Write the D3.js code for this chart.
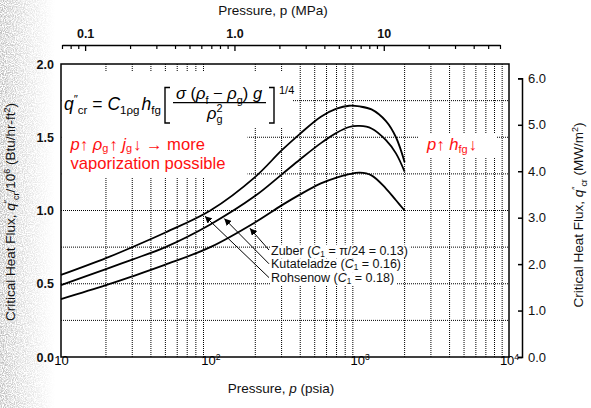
<!DOCTYPE html>
<html lang="en">
<head>
<meta charset="UTF-8">
<title>Critical Heat Flux vs Pressure</title>
<script src="https://d3js.org/d3.v7.min.js"></script>
<style>
  body { margin: 0; background: #fff; }
  svg { display: block; font-family: "Liberation Sans", Arial, Helvetica, sans-serif; }
</style>
</head>
<body>
<svg id="chf" width="591" height="408"></svg>
<script>
// pressure samples (psia)
const pressures = [10, 20, 30, 50, 100, 200, 300, 400, 550, 700, 850, 1000, 1200, 1500, 1750, 2000];
// q"cr / 10^6 (Btu/hr-ft2) for each correlation
const rohsenow    = [0.56, 0.675, 0.75, 0.85, 1.00, 1.23, 1.41, 1.525, 1.64, 1.695, 1.715, 1.71, 1.69, 1.61, 1.50, 1.33];
const kutateladze = [0.49, 0.60, 0.665, 0.75, 0.905, 1.10, 1.245, 1.35, 1.46, 1.53, 1.57, 1.577, 1.56, 1.48, 1.39, 1.265];
const zuber       = [0.395, 0.49, 0.55, 0.63, 0.75, 0.92, 1.035, 1.11, 1.185, 1.225, 1.248, 1.258, 1.24, 1.15, 1.07, 1.00];

const seriesNames = ['Zuber', 'Kutateladze', 'Rohsenow'];
const seriesC1 = ['π/24 = 0.13', '0.16', '0.18'];
const arrowPressures = [184, 124, 92];   // where each label's arrow touches its curve

// axis ticks
const xTicksPsia = [10, 100, 1000, 10000];
const yTicksLeft = [0, 0.5, 1.0, 1.5, 2.0];
const yTicksRight = [0, 1, 2, 3, 4, 5, 6];
const mpaMajor = [0.1, 1, 10];
const mpaMinor = [0.07, 0.08, 0.09, 0.2, 0.3, 0.4, 0.5, 0.6, 0.7, 0.8, 0.9,
                  2, 3, 4, 5, 6, 7, 8, 9, 20, 30, 40, 50, 60];
const gridPsia = [20, 30, 40, 50, 60, 70, 80, 90, 200, 300, 400, 500, 600, 700, 800, 900,
                  2000, 3000, 4000, 5000, 6000, 7000, 8000, 9000];
const gridFlux = [0.25, 0.5, 0.75, 1.0, 1.25, 1.5, 1.75];

const PSIA_PER_MPA = 145.038;
const MW_PER_BTU = 3.1546;   // 1e6 Btu/hr-ft2 -> MW/m2

const svg = d3.select('#chf');
const FONT = '"Liberation Sans", Arial, Helvetica, sans-serif';

// scales
const x = d3.scaleLog().domain([10, 10000]).range([61, 509]);
const y = d3.scaleLinear().domain([0, 2]).range([357, 64]);
const yR = d3.scaleLinear().domain([0, 6]).range([y(0), y(6 / MW_PER_BTU)]);
const xM = d3.scaleLog().domain([0.07, 60]).range([x(0.07 * PSIA_PER_MPA), x(60 * PSIA_PER_MPA)]);

// rich text helper: italics, sub and superscripts through tspans
function rich(sel, parts, size, subShift) {
    const sub = subShift === undefined ? 0.28 : subShift;
    let shift = 0;
    parts.forEach(p => {
        const target = p.sup ? -0.38 * size : p.sub ? sub * size : 0;
        const ts = sel.append('tspan').text(p.t)
            .attr('font-size', (p.sup || p.sub) ? size * 0.66 : size)
            .attr('dy', target - shift);
        if (p.i) ts.attr('font-style', 'italic');
        if (p.dx) ts.attr('dx', p.dx);
        shift = target;
    });
    return sel;
}

// scanned paper texture on the left edge
const defs = svg.append('defs');
const fade = defs.append('linearGradient').attr('id', 'fade').attr('x1', 0).attr('x2', 1).attr('y1', 0).attr('y2', 0);
fade.append('stop').attr('offset', 0).attr('stop-color', '#fff').attr('stop-opacity', 0.9);
fade.append('stop').attr('offset', 0.45).attr('stop-color', '#fff').attr('stop-opacity', 0.45);
fade.append('stop').attr('offset', 1).attr('stop-color', '#fff').attr('stop-opacity', 0);
defs.append('mask').attr('id', 'fadeMask')
    .append('rect').attr('x', 0).attr('y', 0).attr('width', 55).attr('height', 408).attr('fill', 'url(#fade)');
const speck = defs.append('filter').attr('id', 'speck').attr('x', 0).attr('y', 0).attr('width', 1).attr('height', 1);
speck.append('feTurbulence').attr('type', 'fractalNoise').attr('baseFrequency', 0.9).attr('numOctaves', 2).attr('seed', 4);
speck.append('feColorMatrix').attr('type', 'matrix')
    .attr('values', '0 0 0 0 0.45  0 0 0 0 0.45  0 0 0 0 0.45  3 0 0 0 -1.05');
svg.append('rect').attr('x', 0).attr('y', 0).attr('width', 55).attr('height', 408)
    .attr('filter', 'url(#speck)').attr('mask', 'url(#fadeMask)');

// dotted grid
const grid = svg.append('g').attr('stroke', '#000').attr('stroke-width', 1).attr('stroke-dasharray', '1,1');
grid.selectAll('.gx').data(gridPsia).join('line')
    .attr('x1', d => x(d)).attr('x2', d => x(d)).attr('y1', y(2)).attr('y2', y(0));
grid.selectAll('.gy').data(gridFlux).join('line')
    .attr('y1', d => y(d)).attr('y2', d => y(d)).attr('x1', x(10)).attr('x2', x(10000));

// white patches that the annotations sit on
const patches = [[61.5, 72, 231, 55], [61.5, 127, 186, 51], [418, 133, 79, 25]];
svg.append('g').selectAll('rect').data(patches).join('rect')
    .attr('x', d => d[0]).attr('y', d => d[1]).attr('width', d => d[2]).attr('height', d => d[3])
    .attr('fill', '#fff');

// curves
const series = [zuber, kutateladze, rohsenow].map((vals, i) => ({
    name: seriesNames[i], c1: seriesC1[i],
    points: pressures.map((p, j) => ({ p: p, v: vals[j] }))
}));
const line = d3.line().x(d => x(d.p)).y(d => y(d.v)).curve(d3.curveCatmullRom.alpha(0.5));
svg.append('g').selectAll('path').data(series).join('path')
    .attr('d', d => line(d.points))
    .attr('fill', 'none').attr('stroke', '#000').attr('stroke-width', 1.8);

// frame
svg.append('rect')
    .attr('x', x(10)).attr('y', y(2)).attr('width', x(10000) - x(10)).attr('height', y(0) - y(2))
    .attr('fill', 'none').attr('stroke', '#000').attr('stroke-width', 1.5);

// bottom axis (psia)
const xAxis = svg.append('g').attr('transform', `translate(0,${y(0)})`)
    .call(d3.axisBottom(x).tickValues(xTicksPsia).tickSize(0).tickPadding(8).tickFormat(() => ''));
xAxis.select('.domain').remove();
xAxis.selectAll('.tick text').each(function (d) {
    const t = d3.select(this).attr('font-family', FONT).attr('fill', '#000');
    const e = Math.round(Math.log10(d));
    const parts = e === 1 ? [{ t: '10' }] : [{ t: '10' }, { t: String(e), sup: true }];
    rich(t, parts, 13);
});

// left axis
const yAxis = svg.append('g').attr('transform', `translate(${x(10)},0)`)
    .call(d3.axisLeft(y).tickValues(yTicksLeft).tickSize(0).tickPadding(7).tickFormat(d3.format('.1f')));
yAxis.select('.domain').remove();
yAxis.selectAll('text').attr('font-family', FONT).attr('font-size', 12.5).attr('font-weight', 'bold').attr('fill', '#111');

// right axis (MW/m2)
const rAxis = svg.append('g').attr('transform', 'translate(522,0)')
    .call(d3.axisRight(yR).tickValues(yTicksRight).tickSize(-4).tickSizeOuter(-4).tickPadding(6).tickFormat(d3.format('.1f')));
rAxis.select('.domain').attr('stroke-width', 1.5);
rAxis.selectAll('line').attr('stroke-width', 1.5);
rAxis.selectAll('text').attr('font-family', FONT).attr('font-size', 13).attr('fill', '#111');

// top axis (MPa)
const topMinor = svg.append('g').attr('transform', 'translate(0,45)')
    .call(d3.axisTop(xM).tickValues(mpaMinor).tickSize(-4).tickSizeOuter(0).tickFormat(''));
topMinor.select('.domain').attr('stroke-width', 1.3);
topMinor.selectAll('line').attr('stroke-width', 1.2);
const topMajor = svg.append('g').attr('transform', 'translate(0,45)')
    .call(d3.axisTop(xM).tickValues(mpaMajor).tickSize(-6).tickPadding(7)
        .tickFormat(d => d === 0.1 ? '0.1' : d === 1 ? '1.0' : '10'));
topMajor.select('.domain').remove();
topMajor.selectAll('line').attr('stroke-width', 1.3);
topMajor.selectAll('text').attr('font-family', FONT).attr('font-size', 12.5).attr('font-weight', 'bold').attr('fill', '#111');

// axis titles
svg.append('text').attr('x', 273).attr('y', 15).attr('text-anchor', 'middle')
    .attr('font-size', 13.5).attr('fill', '#111').text('Pressure, p (MPa)');
rich(svg.append('text').attr('x', 281).attr('y', 393).attr('text-anchor', 'middle').attr('fill', '#111'),
    [{ t: 'Pressure, ' }, { t: 'p', i: true }, { t: ' (psia)' }], 13.5);
rich(svg.append('text').attr('transform', 'translate(15,212) rotate(-90)').attr('text-anchor', 'middle').attr('fill', '#111'),
    [{ t: 'Critical Heat Flux, ' }, { t: 'q', i: true }, { t: '″', sup: true }, { t: 'cr', sub: true },
     { t: '/10' }, { t: '6', sup: true }, { t: ' (Btu/hr-ft' }, { t: '2', sup: true }, { t: ')' }], 13.5);
rich(svg.append('text').attr('transform', 'translate(583,215) rotate(-90)').attr('text-anchor', 'middle').attr('fill', '#111'),
    [{ t: 'Critical Heat Flux, ' }, { t: 'q', i: true }, { t: '″', sup: true }, { t: 'cr', sub: true },
     { t: ' (MW/m' }, { t: '2', sup: true }, { t: ')' }], 13.5);

// correlation formula
const f = svg.append('g').attr('fill', '#000');
rich(f.append('text').attr('x', 64).attr('y', 109.5),
    [{ t: 'q', i: true }, { t: '″', sup: true }, { t: 'cr', sub: true }, { t: ' = ' },
     { t: 'C', i: true }, { t: '1ρg', sub: true }, { t: 'h', i: true, dx: 2 }, { t: 'fg', sub: true }], 17.5);
rich(f.append('text').attr('x', 219).attr('y', 99).attr('text-anchor', 'middle'),
    [{ t: 'σ', i: true }, { t: ' (' }, { t: 'ρ', i: true }, { t: 'f', sub: true }, { t: ' − ' },
     { t: 'ρ', i: true }, { t: 'g', sub: true }, { t: ') ' }, { t: 'g', i: true }], 16.5);
rich(f.append('text').attr('x', 207).attr('y', 118.5),
    [{ t: 'ρ', i: true }, { t: 'g', sub: true }, { t: '2', sup: true, dx: -6 }], 16.5);
f.append('line').attr('x1', 173).attr('x2', 266).attr('y1', 102.7).attr('y2', 102.7)
    .attr('stroke', '#000').attr('stroke-width', 1.2);
f.append('path').attr('d', 'M170,87.5 H165 V123 H170 M269,87.5 H274 V123 H269')
    .attr('fill', 'none').attr('stroke', '#000').attr('stroke-width', 1.4);
f.append('text').attr('x', 279).attr('y', 93.5).attr('font-size', 11).text('1/4');

// red notes
const red = '#ff1010';
rich(svg.append('text').attr('x', 70.5).attr('y', 149.5).attr('fill', red),
    [{ t: 'p', i: true }, { t: '↑ ' }, { t: 'ρ', i: true }, { t: 'g', sub: true }, { t: '↑ ', dx: 1 },
     { t: 'j', i: true }, { t: 'g', sub: true }, { t: '↓  → more', dx: 1 }], 16.6, 0.16);
svg.append('text').attr('x', 70.5).attr('y', 169).attr('fill', red).attr('font-size', 16.6)
    .text('vaporization possible');
rich(svg.append('text').attr('x', 427).attr('y', 150).attr('fill', red),
    [{ t: 'p', i: true }, { t: '↑ ' }, { t: 'h', i: true }, { t: 'fg', sub: true }, { t: '↓', dx: 1 }], 16.6, 0.16);

// curve labels with leader arrows
defs.append('marker').attr('id', 'head').attr('viewBox', '0 0 10 10').attr('refX', 10).attr('refY', 5)
    .attr('markerWidth', 7).attr('markerHeight', 7).attr('markerUnits', 'userSpaceOnUse').attr('orient', 'auto')
    .append('path').attr('d', 'M0,0 L10,5 L0,10 Z').attr('fill', '#000');

function valueAt(points, p) {
    const i = d3.bisector(d => d.p).left(points, p);
    const a = points[i - 1], b = points[i];
    const t = (Math.log(p) - Math.log(a.p)) / (Math.log(b.p) - Math.log(a.p));
    return a.v + t * (b.v - a.v);
}

const labelX = 271, labelY0 = 254.5, labelStep = 13.8;
const labels = svg.append('g');
series.forEach((s, i) => {
    const by = labelY0 + i * labelStep;
    const tipX = x(arrowPressures[i]);
    const tipY = y(valueAt(s.points, arrowPressures[i])) + 3;
    labels.append('line')
        .attr('x1', labelX - 2).attr('y1', by - 4.5).attr('x2', tipX).attr('y2', tipY)
        .attr('stroke', '#000').attr('stroke-width', 1).attr('marker-end', 'url(#head)');
    const g = labels.append('g');
    const bg = g.append('rect').attr('fill', '#fff');
    const t = rich(g.append('text').attr('x', labelX).attr('y', by).attr('fill', '#111'),
        [{ t: s.name + ' (' }, { t: 'C', i: true }, { t: '1', sub: true }, { t: ' = ' + s.c1 + ')' }], 12.5, 0.16);
    const bb = t.node().getBBox();
    bg.attr('x', bb.x - 1).attr('y', bb.y + 1).attr('width', bb.width + 3).attr('height', bb.height - 2);
});
</script>
</body>
</html>
